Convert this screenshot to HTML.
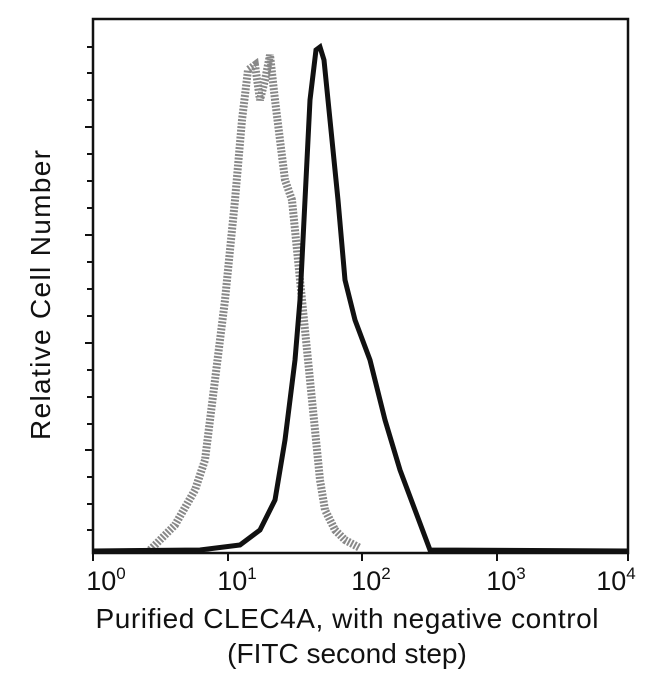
<!DOCTYPE html>
<html><head><style>
body{margin:0;background:#fff;}
svg text{font-family:"Liberation Sans",sans-serif;fill:#111;}
</style></head><body>
<svg width="650" height="676" viewBox="0 0 650 676" xmlns="http://www.w3.org/2000/svg">
<rect x="93" y="19" width="535" height="534" fill="none" stroke="#111" stroke-width="2.5"/>
<g stroke="#111" stroke-width="2">
<line x1="87" y1="47" x2="93" y2="47"/><line x1="87" y1="73" x2="93" y2="73"/><line x1="87" y1="100" x2="93" y2="100"/><line x1="85" y1="127" x2="93" y2="127"/>
<line x1="87" y1="154" x2="93" y2="154"/><line x1="87" y1="181" x2="93" y2="181"/><line x1="87" y1="208" x2="93" y2="208"/><line x1="85" y1="235" x2="93" y2="235"/>
<line x1="87" y1="262" x2="93" y2="262"/><line x1="87" y1="289" x2="93" y2="289"/><line x1="87" y1="316" x2="93" y2="316"/><line x1="85" y1="343" x2="93" y2="343"/>
<line x1="87" y1="370" x2="93" y2="370"/><line x1="87" y1="397" x2="93" y2="397"/><line x1="87" y1="424" x2="93" y2="424"/><line x1="85" y1="450" x2="93" y2="450"/>
<line x1="87" y1="477" x2="93" y2="477"/><line x1="87" y1="504" x2="93" y2="504"/><line x1="87" y1="530" x2="93" y2="530"/>
<line x1="93" y1="553" x2="93" y2="561"/><line x1="228" y1="553" x2="228" y2="561"/><line x1="362" y1="553" x2="362" y2="561"/><line x1="497" y1="553" x2="497" y2="561"/><line x1="628" y1="553" x2="628" y2="561"/>
</g>
<polyline fill="none" stroke="#888" stroke-width="8" stroke-dasharray="2 1.5" points="150,550 175,525 195,490 205,460 215,380 225,300 235,200 242,120 248,70 255,65 260,100 265,80 270,55 275,100 285,180 292,200 298,260 305,330 310,380 315,430 320,480 325,510 335,530 345,540 360,548"/>
<polyline fill="none" stroke="#111" stroke-width="5" points="93,551 200,550 240,545 260,530 275,500 285,440 295,360 300,300 305,200 310,100 316,50 320,47 324,60 330,120 338,200 345,280 355,320 370,360 385,420 400,470 415,510 430,550 628,551"/>
<g font-size="27">
<text x="106" y="590" text-anchor="middle">10<tspan font-size="17" dy="-11">0</tspan></text>
<text x="237" y="590" text-anchor="middle">10<tspan font-size="17" dy="-11">1</tspan></text>
<text x="371" y="590" text-anchor="middle">10<tspan font-size="17" dy="-11">2</tspan></text>
<text x="506" y="590" text-anchor="middle">10<tspan font-size="17" dy="-11">3</tspan></text>
<text x="616" y="590" text-anchor="middle">10<tspan font-size="17" dy="-11">4</tspan></text>
</g>
<g font-size="28">
<text x="347" y="628" text-anchor="middle" textLength="503">Purified CLEC4A, with negative control</text>
<text x="347" y="663" text-anchor="middle">(FITC second step)</text>
<text transform="translate(50,295) rotate(-90)" text-anchor="middle" textLength="290">Relative Cell Number</text>
</g>
</svg>
</body></html>
